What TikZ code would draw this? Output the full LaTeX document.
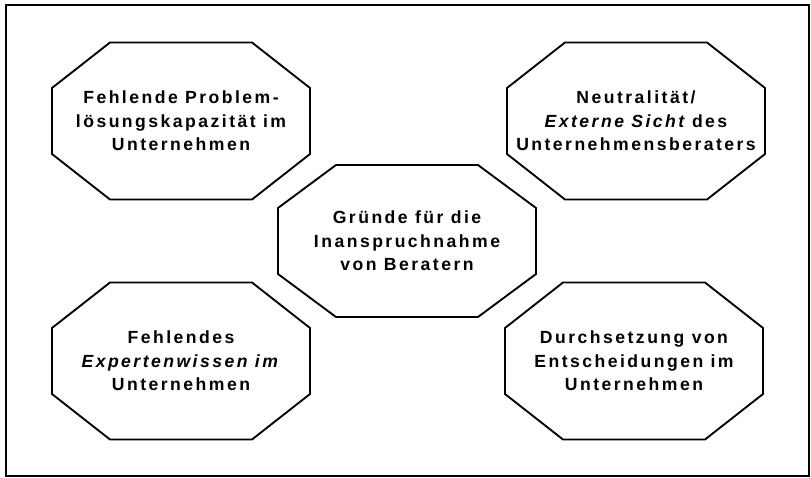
\documentclass[tikz,border=0pt]{standalone}
\usepackage{fontspec}
\setmainfont{Liberation Sans}[LetterSpace=14]
\newcommand\octagonbox[2]{%
  \draw[octline] ([shift={(-71,-#2)}]#1.center) -- ([shift={(71,-#2)}]#1.center)
   -- ([shift={(129,-33)}]#1.center) -- ([shift={(129,33)}]#1.center)
   -- ([shift={(71,#2)}]#1.center) -- ([shift={(-71,#2)}]#1.center)
   -- ([shift={(-129,33)}]#1.center) -- ([shift={(-129,-33)}]#1.center) -- cycle;}
\begin{document}
\begin{tikzpicture}[x=0.75pt,y=-0.75pt,
  octline/.style={line width=1.4pt,line join=miter},
  txt/.style={align=center,inner sep=0pt,font=\bfseries\fontsize{13.2}{17.5}\selectfont}]
\useasboundingbox (0,0) rectangle (811,478);
\draw[line width=0.9pt] (6,5) rectangle (809,476);
\node[txt] (tl) at (181,121) {Fehlende Problem-\\lösungskapazität im\\Unternehmen};
\node[txt] (tr) at (636,121) {Neutralität/\\\textit{Externe Sicht}\kern-2pt{} des\\Unternehmensberaters};
\node[txt] (c) at (407,241) {Gründe für die\\Inanspruchnahme\\von Beratern};
\node[txt] (bl) at (181,361) {Fehlendes\\\textit{Expertenwissen im}\\Unternehmen};
\node[txt] (br) at (634,361) {Durchsetzung von\\Entscheidungen im\\Unternehmen};
\octagonbox{tl}{78.5}
\octagonbox{tr}{78.5}
\octagonbox{c}{76}
\octagonbox{bl}{78.5}
\octagonbox{br}{78.5}
\end{tikzpicture}
\end{document}
